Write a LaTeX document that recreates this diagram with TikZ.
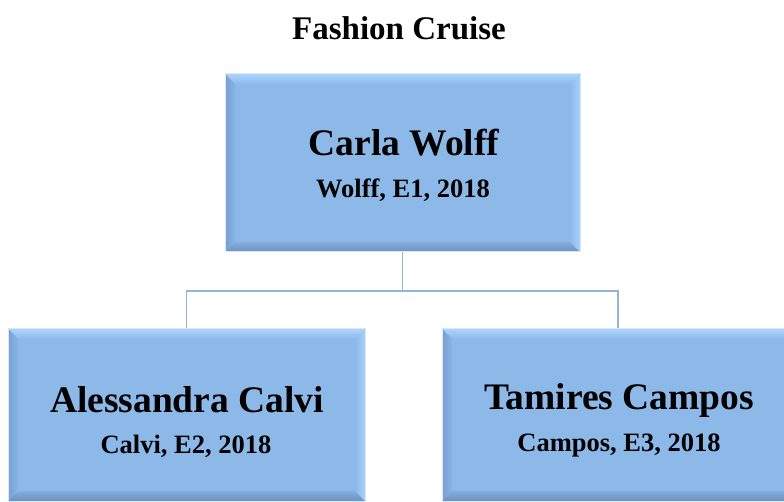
\documentclass[tikz,border=0pt]{standalone}
\usepackage{fontspec}
\setmainfont{Liberation Serif}
\usetikzlibrary{calc}
\definecolor{face}{RGB}{141,185,233}
\definecolor{btop}{RGB}{172,212,252}
\definecolor{bleft}{RGB}{120,160,208}
\definecolor{bbottom}{RGB}{108,146,192}
\definecolor{bright}{RGB}{168,208,250}
\definecolor{edge}{RGB}{218,232,246}
\definecolor{connc}{RGB}{150,180,212}
\tikzset{
  bevelbox/.style={fill=face, draw=edge, line width=1pt, inner sep=0pt,
    path picture={
      \path (path picture bounding box.north west) coordinate (pnw)
            (path picture bounding box.north east) coordinate (pne)
            (path picture bounding box.south west) coordinate (psw)
            (path picture bounding box.south east) coordinate (pse);
      \shade[top color=btop, bottom color=face] (pnw) -- (pne) -- ($(pne)+(-10pt,-10pt)$) -- ($(pnw)+(10pt,-10pt)$) -- cycle;
      \shade[left color=bleft, right color=face!80!bleft] (pnw) -- (psw) -- ($(psw)+(10pt,10pt)$) -- ($(pnw)+(10pt,-10pt)$) -- cycle;
      \shade[top color=face!70!bbottom, bottom color=bbottom] (psw) -- (pse) -- ($(pse)+(-10pt,10pt)$) -- ($(psw)+(10pt,10pt)$) -- cycle;
      \shade[left color=face, right color=bright] (pne) -- (pse) -- ($(pse)+(-10pt,10pt)$) -- ($(pne)+(-10pt,-10pt)$) -- cycle;
    }},
  conn/.style={draw=connc, line width=1.3pt},
  ttltext/.style={font=\fontsize{33}{40}\selectfont\bfseries, inner sep=0pt},
  nametext/.style={font=\fontsize{37.5}{44}\selectfont\bfseries, inner sep=0pt},
  subtext/.style={font=\fontsize{26.5}{32}\selectfont\bfseries, inner sep=0pt}
}
\begin{document}
\begin{tikzpicture}[x=1pt,y=-1pt]
\useasboundingbox (0,0) rectangle (784,502);
\node[ttltext] (t) at (399,28) {Fashion Cruise};
\node[bevelbox, minimum width=355pt, minimum height=178pt] (top) at (402.5,163) {};
\node[bevelbox, minimum width=357pt, minimum height=172pt] (lb) at (186.5,415) {};
\node[bevelbox, minimum width=352pt, minimum height=172pt] (rb) at (618,415) {};
\coordinate (bus) at (402.5,291);
\draw[conn] (top.south) -- (top.south |- bus) -| (lb.north);
\draw[conn] (top.south |- bus) -| (rb.north);
\node[nametext] (n1) at (404,143) {Carla Wolff};
\node[subtext] (s1) at (403,190) {Wolff, E1, 2018};
\node[nametext] (n2) at (187,400) {Alessandra Calvi};
\node[subtext] (s2) at (186,446) {Calvi, E2, 2018};
\node[nametext] (n3) at (619,400) {Tamires Campos};
\node[subtext] (s3) at (619,446) {Campos, E3, 2018};
\end{tikzpicture}
\end{document}
